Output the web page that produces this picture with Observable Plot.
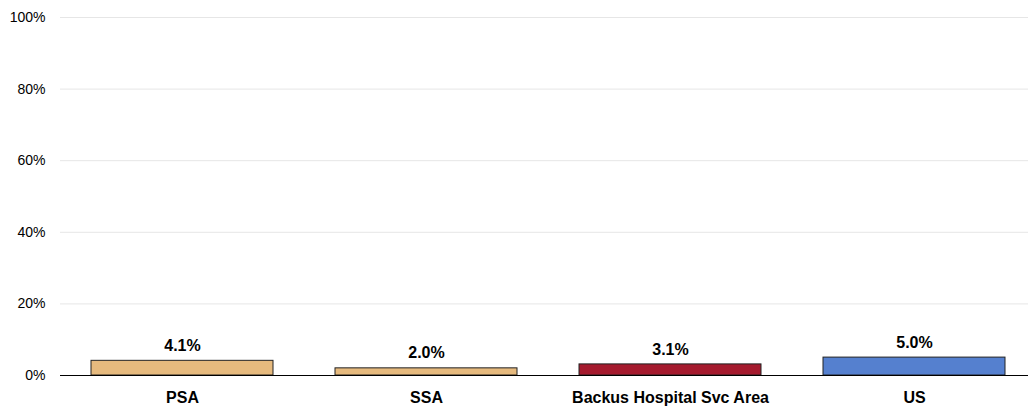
<!DOCTYPE html>
<html>
<head>
<meta charset="utf-8">
<script src="https://cdn.jsdelivr.net/npm/d3@7"></script>
<script src="https://cdn.jsdelivr.net/npm/@observablehq/plot@0.6"></script>
<style>
  html, body { margin: 0; padding: 0; background: #fff; }
  #chart svg { display: block; }
</style>
</head>
<body>
<div id="chart"></div>
<script>
const categories = ["PSA", "SSA", "Backus Hospital Svc Area", "US"];
const values = [4.1, 2.0, 3.1, 5.0];
const colors = ["#E6BA7E", "#E6BA7E", "#A51A2E", "#5580CF"];
const yTicks = [0, 20, 40, 60, 80, 100];

const data = categories.map((c, i) => ({ cat: c, value: values[i], color: colors[i] }));

const chart = Plot.plot({
  width: 1028,
  height: 411,
  marginTop: 17,
  marginBottom: 36,
  marginLeft: 60,
  marginRight: 0,
  style: { fontFamily: "'Liberation Sans', Arial, sans-serif", color: "#000", background: "#fff" },
  x: { domain: categories, range: [60, 1037], paddingInner: 0.254, paddingOuter: 0.127, label: null },
  y: { domain: [0, 100], label: null },
  marks: [
    Plot.ruleY(yTicks.filter(d => d > 0), { stroke: "#e6e6e6", strokeWidth: 1 }),
    Plot.axisY({ ticks: yTicks, tickSize: 0, tickPadding: 15, tickFormat: d => d + "%", fontSize: 14, label: null }),
    Plot.barY(data, { x: "cat", y: "value", fill: "color", stroke: "#222", strokeWidth: 1 }),
    Plot.ruleY([0], { stroke: "#000", strokeWidth: 1.2 }),
    Plot.axisX({ tickSize: 0, tickPadding: 16, fontSize: 16, fontWeight: "bold", label: null }),
    Plot.text(data, { x: "cat", y: "value", text: d => d.value.toFixed(1) + "%", dy: -15, fontSize: 16, fontWeight: "bold", fill: "#000" })
  ]
});
document.getElementById("chart").appendChild(chart);
</script>
</body>
</html>
